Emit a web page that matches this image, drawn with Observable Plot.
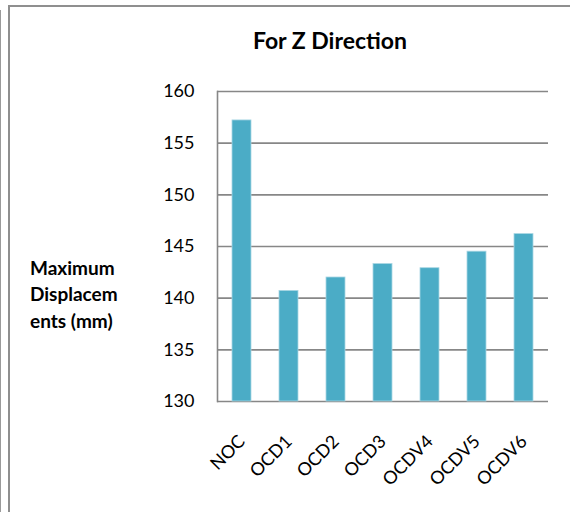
<!DOCTYPE html>
<html>
<head>
<meta charset="utf-8">
<script src="https://cdn.jsdelivr.net/npm/d3@7"></script>
<script src="https://cdn.jsdelivr.net/npm/@observablehq/plot@0.6"></script>
<style>
  html, body { margin: 0; padding: 0; background: #fff; }
  #wrap { position: relative; width: 570px; height: 512px; overflow: hidden; background: #fff; font-family: Lato, "Open Sans", sans-serif; }
  #outer { position: absolute; left: 0; top: 10px; width: 1px; height: 520px; background: #9a9a9a; }
  #frame { position: absolute; left: 8px; top: 5px; width: 600px; height: 600px; border-left: 2px solid #8f8f8f; border-top: 2px solid #8f8f8f; }
  #title { position: absolute; left: 180px; width: 300px; top: 28.5px; text-align: center; font-weight: bold; font-size: 23px; line-height: 23px; color: #000; }
  #ylabel { position: absolute; left: 30px; top: 254.5px; font-weight: bold; font-size: 19px; line-height: 26.5px; color: #000; }
  .layer { position: absolute; left: 0; top: 0; }
</style>
</head>
<body>
<div id="wrap">
  <div id="outer"></div>
  <div id="frame"></div>
  <div id="title">For Z Direction</div>
  <div id="ylabel">Maximum<br>Displacem<br>ents (mm)</div>
</div>
<script>
const categories = ["NOC", "OCD1", "OCD2", "OCD3", "OCDV4", "OCDV5", "OCDV6"];
const values = [157.2, 140.7, 142.0, 143.3, 142.9, 144.5, 146.2];
const yTicks = [130, 135, 140, 145, 150, 155, 160];

const data = categories.map((c, i) => ({cat: c, val: values[i]}));
const wrap = document.getElementById("wrap");

const main = Plot.plot({
  width: 570,
  height: 512,
  marginLeft: 217,
  marginRight: 22,
  marginTop: 91,
  marginBottom: 111,
  style: {background: "transparent", fontFamily: "Lato, 'Open Sans', sans-serif", fontSize: "18px", color: "#000"},
  x: {domain: categories, paddingInner: 0.6, paddingOuter: 0.3, axis: null},
  y: {domain: [130, 160], ticks: yTicks, tickSize: 0, tickPadding: 23, label: null, tickFormat: d => String(d)},
  marks: [
    Plot.gridY(yTicks, {stroke: "#878787", strokeOpacity: 1, strokeWidth: 1.6}),
    Plot.frame({anchor: "left", stroke: "#878787", strokeWidth: 1.6}),
    Plot.barY(data, {x: "cat", y1: 130, y2: "val", fill: "#4BACC6", stroke: "#a9d6e3", strokeWidth: 0.8}),
    Plot.text(categories, {x: d => d, text: d => d, frameAnchor: "bottom", dy: 37, rotate: -45, textAnchor: "end", lineAnchor: "middle", fill: "#000", fontSize: 18})
  ]
});
main.classList.add("layer");
wrap.appendChild(main);
</script>
</body>
</html>
